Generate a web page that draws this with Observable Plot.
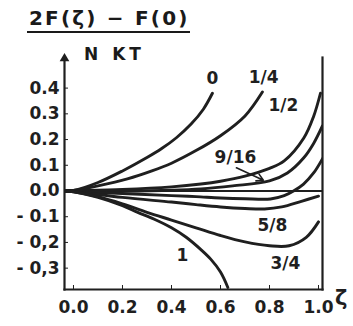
<!DOCTYPE html>
<html>
<head>
<meta charset="utf-8">
<script src="https://cdn.jsdelivr.net/npm/d3@7"></script>
<script src="https://cdn.jsdelivr.net/npm/@observablehq/plot@0.6"></script>
<style>
  html, body { margin: 0; padding: 0; background: #fff; }
  #wrap { position: relative; width: 353px; height: 326px; overflow: hidden; }
  .t { position: absolute; font-family: "DejaVu Sans", sans-serif; font-weight: bold; color: #1a1a1a; white-space: nowrap; }
  #num { left: 27px; top: 6px; font-size: 20px; letter-spacing: 2.2px; padding: 0 0 1px 2px; border-bottom: 2px solid #1a1a1a; line-height: 24px; }
  #den { left: 84px; top: 43px; font-size: 17px; letter-spacing: 4px; line-height: 22px; }
</style>
</head>
<body>
<div id="wrap">
  <div id="chart"></div>
  <div class="t" id="num">2F(ζ) − F(0)</div>
  <div class="t" id="den">N KT</div>
</div>
<script>
// ---- data ----
const seriesNames = ["0", "1/4", "1/2", "9/16", "a", "5/8", "3/4", "1"];
const curve0   = [[-0.035,0],[0,0.002],[0.1,0.033],[0.2,0.078],[0.3,0.13],[0.36,0.165],[0.42,0.207],[0.48,0.26],[0.53,0.318],[0.567,0.38]];
const curve14  = [[-0.035,0],[0,0.002],[0.1,0.02],[0.22,0.047],[0.32,0.078],[0.4,0.108],[0.5,0.157],[0.6,0.215],[0.7,0.292],[0.771,0.385]];
const curve12  = [[-0.035,0],[0,0.001],[0.2,0.006],[0.4,0.016],[0.52,0.027],[0.6,0.038],[0.7,0.058],[0.8,0.088],[0.86,0.117],[0.94,0.206],[0.98,0.29],[1.008,0.38]];
const curve916 = [[-0.035,0],[0,0],[0.2,0.0],[0.4,0.003],[0.52,0.008],[0.65,0.02],[0.8,0.039],[0.873,0.07],[0.939,0.128],[0.98,0.185],[1.016,0.253]];
const curveA   = [[-0.035,0],[0,-0.001],[0.2,-0.01],[0.4,-0.018],[0.5,-0.022],[0.6,-0.027],[0.7,-0.03],[0.804,-0.031],[0.86,-0.018],[0.898,0.0],[0.939,0.027],[0.98,0.07],[1.016,0.125]];
const curve58  = [[-0.035,0],[0,-0.002],[0.2,-0.025],[0.4,-0.043],[0.5,-0.053],[0.6,-0.062],[0.7,-0.068],[0.78,-0.07],[0.85,-0.062],[0.93,-0.04],[1.0,-0.02]];
const curve34  = [[-0.035,0],[0,-0.003],[0.1,-0.022],[0.2,-0.05],[0.3,-0.083],[0.4,-0.113],[0.5,-0.143],[0.6,-0.173],[0.7,-0.198],[0.8,-0.213],[0.88,-0.213],[0.95,-0.18],[1.0,-0.12]];
const curve1   = [[-0.035,0],[0,-0.003],[0.1,-0.025],[0.2,-0.057],[0.26,-0.082],[0.33,-0.11],[0.4,-0.143],[0.46,-0.18],[0.52,-0.228],[0.56,-0.265],[0.6,-0.315],[0.63,-0.375]];
const curves = [curve0, curve14, curve12, curve916, curveA, curve58, curve34, curve1];

const xTicks = [0, 0.2, 0.4, 0.6, 0.8, 1.0];
const xTickLabels = ["0.0", "0.2", "0.4", "0.6", "0.8", "1.0"];
const yTicks = [0.4, 0.3, 0.2, 0.1, 0, -0.1, -0.2, -0.3];
const yTickLabels = ["0.4", "0.3", "0.2", "0.1", "0.0", "- 0.1", "- 0,2", "- 0,3"];

const labelText = ["0", "1/4", "1/2", "9/16", "5/8", "3/4", "1"];
const labelX    = [0.567, 0.776, 0.857, 0.661, 0.812, 0.865, 0.445];
const labelY    = [0.438, 0.441, 0.333, 0.13, -0.134, -0.282, -0.251];

const arrowFrom = [0.665, 0.09];
const arrowTo   = [0.775, 0.042];
const xLabel = "ζ";

// ---- build table ----
const rows = [];
curves.forEach((c, i) => c.forEach(([x, y]) => rows.push({series: seriesNames[i], x, y})));
const labels = labelText.map((t, i) => ({t, x: labelX[i], y: labelY[i]}));

const ink = "#1f1f1f";
const font = "DejaVu Sans, sans-serif";

const plot = Plot.plot({
  width: 353,
  height: 326,
  marginLeft: 64,
  marginRight: 31,
  marginTop: 57,
  marginBottom: 37,
  style: {fontFamily: font, background: "white", color: ink},
  x: {domain: [-0.0367, 1.0163]},
  y: {domain: [-0.383, 0.519]},
  marks: [
    Plot.ruleY([0], {stroke: ink, strokeWidth: 2}),
    Plot.line(rows, {x: "x", y: "y", z: "series", curve: "catmull-rom", stroke: ink, strokeWidth: 2.9, clip: true}),
    Plot.frame({anchor: "left", stroke: ink, strokeWidth: 2.2}),
    Plot.frame({anchor: "bottom", stroke: ink, strokeWidth: 2.2}),
    Plot.frame({anchor: "right", stroke: ink, strokeWidth: 2.2}),
    Plot.dot([0], {frameAnchor: "top-left", symbol: "triangle", r: 3.6, fill: ink, stroke: "none", dy: 1}),
    Plot.axisY({ticks: yTicks, tickFormat: (d) => yTickLabels[yTicks.indexOf(d)], tickSize: -4, tickPadding: 9, fontSize: 17, fontWeight: "bold", stroke: ink, fill: ink, label: null}),
    Plot.axisX({ticks: xTicks, tickFormat: (d) => xTickLabels[xTicks.indexOf(d)], tickSize: -4, tickPadding: 15, fontSize: 17, fontWeight: "bold", stroke: ink, fill: ink, label: null}),
    Plot.text([xLabel], {frameAnchor: "bottom-right", dx: 25, dy: 15, fontSize: 21, fontWeight: "bold", fill: ink}),
    Plot.text(labels, {x: "x", y: "y", text: "t", fontSize: 17, fontWeight: "bold", fill: ink}),
    Plot.arrow([{x1: arrowFrom[0], y1: arrowFrom[1], x2: arrowTo[0], y2: arrowTo[1]}], {x1: "x1", y1: "y1", x2: "x2", y2: "y2", stroke: ink, strokeWidth: 1.6, headLength: 7})
  ]
});
document.getElementById("chart").appendChild(plot);
</script>
</body>
</html>
